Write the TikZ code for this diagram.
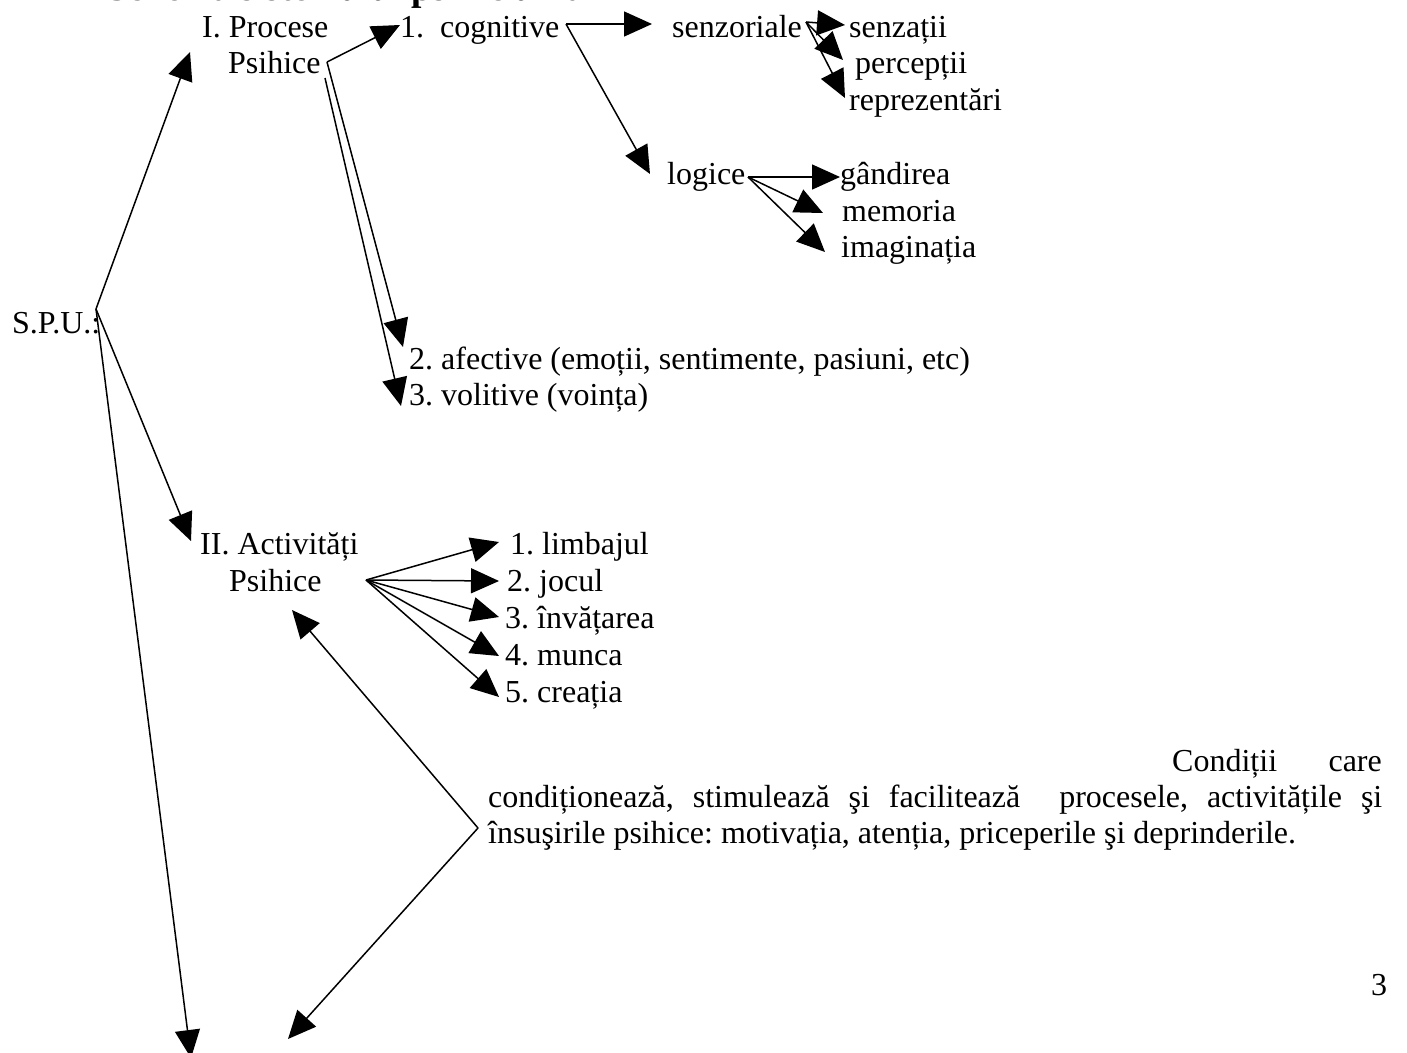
\documentclass[tikz,border=0pt]{standalone}
\usepackage{fontspec}
\setmainfont{Liberation Serif}
\usetikzlibrary{arrows.meta}
\begin{document}
\frenchspacing
\begin{tikzpicture}[x=1pt,y=-1pt,
  txt/.style={inner sep=0pt, anchor=base west, font=\fontsize{32pt}{37pt}\selectfont\frenchspacing},
  arr/.style={draw, line width=1.5pt, -{Triangle[length=28pt,width=25pt]}},
  ln/.style={draw, line width=1.5pt}]
\path[use as bounding box, fill=white] (0,0) rectangle (1407,1052);
% title (cut at the top, as in the reference)
\node[txt, font=\fontsize{37.3pt}{40pt}\selectfont\bfseries] (title) at (107,1) {Schema sistemului psihic uman};
% texts
\node[txt] (ip1) at (202,37) {I. Procese};
\node[txt] (ip2) at (228,73) {Psihice};
\node[txt] (cog) at (400,37) {1.\ \ cognitive};
\node[txt] (senz) at (672,37) {senzoriale};
\node[txt] (s1) at (849,37) {senzații};
\node[txt] (s2) at (855,73) {percepții};
\node[txt] (s3) at (849,110) {reprezentări};
\node[txt] (log) at (667,184) {logice};
\node[txt] (l1) at (840,184) {gândirea};
\node[txt] (l2) at (842,221) {memoria};
\node[txt] (l3) at (841,257) {imaginația};
\node[txt] (spu) at (12,333) {S.P.U.:};
\node[txt] (af) at (409,369) {2. afective (emoții, sentimente, pasiuni, etc)};
\node[txt] (vol) at (409,405) {3. volitive (voința)};
\node[txt] (ia1) at (200,554) {II. Activități};
\node[txt] (ia2) at (229,591) {Psihice};
\node[txt] (a1) at (510,554) {1. limbajul};
\node[txt] (a2) at (507,591) {2. jocul};
\node[txt] (a3) at (505,628) {3. învățarea};
\node[txt] (a4) at (505,665) {4. munca};
\node[txt] (a5) at (505,702) {5. creația};
\node[txt] (c1a) at (1172,771) {Condiții};
\node[txt, anchor=base east] (c1b) at (1382,771) {care};
\node[txt] (c2) at (488,807) {\makebox[894pt][s]{condiționează, stimulează şi facilitează\hspace*{20pt} procesele, activitățile şi}};
\node[txt] (c3) at (488,843) {însuşirile psihice: motivația, atenția, priceperile şi deprinderile.};
\node[txt] (pg) at (1371,995) {3};
% connector points
\coordinate (o) at (96,309);
\coordinate (tI) at (190,52);
\coordinate (tII) at (191,541);
\coordinate (tB) at (191,1058);
\coordinate (v1) at (327,62);
\coordinate (v1b) at (325,78);
\coordinate (tcog) at (400,25);
\coordinate (taf) at (403,347);
\coordinate (tvol) at (401,406);
\coordinate (v2) at (566,24);
\coordinate (tsenz) at (652,24);
\coordinate (tlog) at (650,174);
\coordinate (v3) at (806,22);
\coordinate (ts1) at (845,25);
\coordinate (ts2) at (843,60);
\coordinate (ts3) at (845,98);
\coordinate (v4) at (748,177);
\coordinate (tl1) at (840,177);
\coordinate (tl2) at (823,213);
\coordinate (tl3) at (825,252);
\coordinate (v5) at (366,580);
\coordinate (ta1) at (499,542);
\coordinate (ta2) at (499,581);
\coordinate (ta3) at (499,617);
\coordinate (ta4) at (499,656);
\coordinate (ta5) at (499,697);
\coordinate (v6) at (478,828);
\coordinate (tIIb) at (292,610);
\coordinate (tbot) at (288,1039);
% connectors
\path[arr] (o) -- (tI);
\path[arr] (o) -- (tII);
\path[arr] (o) -- (tB);
\path[arr] (v1) -- (tcog);
\path[arr] (v1) -- (taf);
\path[arr] (v1b) -- (tvol);
\path[arr] (v2) -- (tsenz);
\path[arr] (v2) -- (tlog);
\path[arr] (v3) -- (ts1);
\path[arr] (v3) -- (ts2);
\path[arr] (v3) -- (ts3);
\path[arr] (v4) -- (tl1);
\path[arr] (v4) -- (tl2);
\path[arr] (v4) -- (tl3);
\path[arr] (v5) -- (ta1);
\path[arr] (v5) -- (ta2);
\path[arr] (v5) -- (ta3);
\path[arr] (v5) -- (ta4);
\path[arr] (v5) -- (ta5);
\path[arr] (v6) -- (tIIb);
\path[arr] (v6) -- (tbot);
\end{tikzpicture}
\end{document}
